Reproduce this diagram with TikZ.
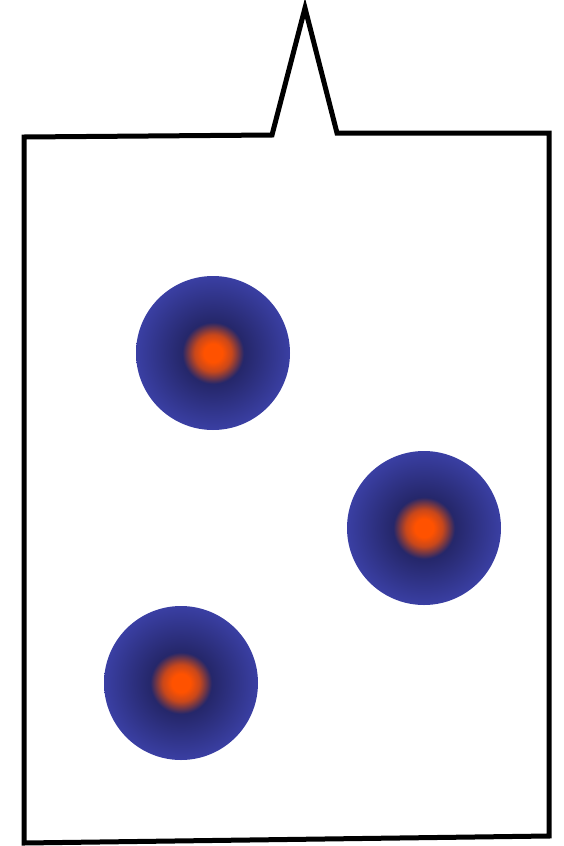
\documentclass[tikz,border=0pt]{standalone}
\usepackage{tikz}

\definecolor{coreorange}{HTML}{FF5200}
\definecolor{darknavy}{HTML}{25276A}
\definecolor{ballblue}{HTML}{3A3FA3}

\pgfdeclareradialshading{glowball}{\pgfpoint{0bp}{0bp}}{%
color(0bp)=(coreorange); color(3bp)=(coreorange); color(6bp)=(coreorange!75!darknavy);
color(10bp)=(darknavy); color(25bp)=(ballblue); color(50bp)=(ballblue)}

\tikzset{
ball/.style={circle, minimum size=154pt, inner sep=0pt, shading=glowball},
outline/.style={line width=5pt, line join=miter}
}

\begin{document}
\begin{tikzpicture}[x=1pt,y=-1pt]
\useasboundingbox (0,0) rectangle (563,846);

% balloon outline
\draw[outline] (24,137) -- (272,135) -- (305,8) -- (337,133) -- (549,133)
-- (549,836) -- (24,843) -- cycle;

\node[ball] (b1) at (213,353) {};
\node[ball] (b2) at (424,528) {};
\node[ball] (b3) at (181,683) {};
\end{tikzpicture}
\end{document}
